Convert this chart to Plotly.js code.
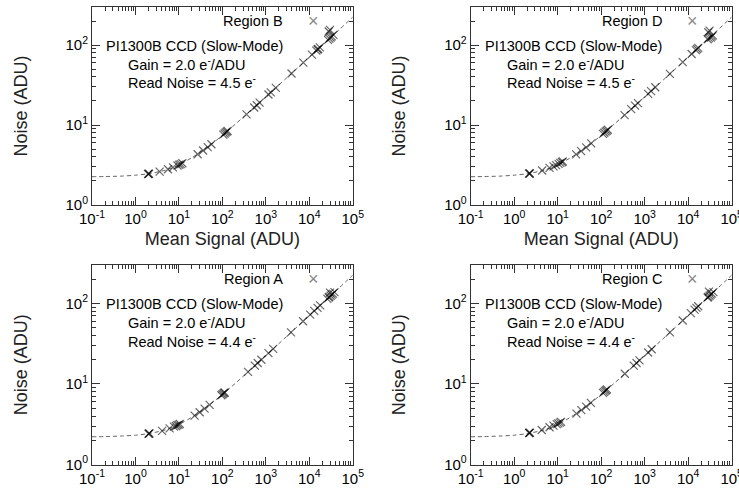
<!DOCTYPE html>
<html>
<head>
<meta charset="utf-8">
<script src="https://cdn.plot.ly/plotly-3.0.1.min.js"></script>
<style>
  html, body { margin: 0; padding: 0; background: #fff; overflow: hidden; }
  #chart { width: 739px; height: 489px; }
</style>
</head>
<body>
<div id="chart"></div>
<script>
// ---------------- data ----------------
var panelNames = ['Region B', 'Region D', 'Region A', 'Region C'];
var readNoiseLabels = ['4.5', '4.5', '4.4', '4.4'];
var gainLabel = '2.0';

var xTickVals = [0.1, 1, 10, 100, 1000, 10000, 100000];
var xTickText = ['10<sup>-1</sup>', '10<sup>0</sup>', '10<sup>1</sup>', '10<sup>2</sup>', '10<sup>3</sup>', '10<sup>4</sup>', '10<sup>5</sup>'];
var yTickVals = [1, 10, 100];
var yTickText = ['10<sup>0</sup>', '10<sup>1</sup>', '10<sup>2</sup>'];

// fitted model curves (dashed)
var curveSignal  = [0.1, 0.2, 0.5, 1, 2, 5, 10, 20, 50, 100, 200, 500, 1000, 3000, 10000, 30000, 100000];
var curveNoiseBD = [2.26, 2.27, 2.30, 2.36, 2.46, 2.74, 3.17, 3.92, 5.49, 7.42, 10.3, 16.0, 22.5, 38.8, 70.7, 122.5, 224];
var curveNoiseAC = [2.21, 2.22, 2.26, 2.31, 2.42, 2.70, 3.14, 3.88, 5.47, 7.41, 10.2, 16.0, 22.5, 38.8, 70.7, 122.5, 224];

// Region B (top left)
var regionBSignal = [1.95, 2.0, 2.05, 3.6, 5.6, 7.3, 9.3, 10.2, 11.0, 12.0, 27, 36, 46, 56,
  105, 112, 118, 125, 132, 360, 540, 620, 720, 1150, 1300, 1700, 3900, 7300,
  11500, 14500, 15500, 16000, 17500, 27000, 28000, 29000, 30000, 31000, 33000, 36000];
var regionBNoise = [2.44, 2.45, 2.46, 2.62, 2.80, 2.95, 3.12, 3.19, 3.25, 3.33, 4.31, 4.80, 5.30, 5.75,
  7.59, 7.82, 8.05, 8.24, 8.43, 13.6, 16.6, 17.7, 19.1, 24.1, 25.6, 29.2, 44.2, 60.5,
  75.9, 85.2, 88.1, 89.5, 93.6, 116.2, 148, 120.4, 155, 124.5, 128.5, 134.2];

// Region D (top right)
var regionDSignal = [2.2, 2.25, 2.3, 4.4, 6.5, 8.0, 9.2, 10.5, 11.5, 12.5, 13.1, 26.6, 34.6, 45, 59,
  110, 118, 126, 134, 142, 345, 490, 600, 700, 1200, 1400, 1750, 3800, 7500,
  12000, 15000, 16000, 17000, 28000, 29000, 30000, 31000, 33000, 35000, 37000];
var regionDNoise = [2.47, 2.48, 2.49, 2.70, 2.91, 3.04, 3.15, 3.27, 3.36, 3.44, 3.50, 4.29, 4.71, 5.25, 5.89,
  7.76, 8.01, 8.26, 8.49, 8.73, 13.3, 15.8, 17.5, 18.8, 24.6, 26.6, 29.7, 43.6, 61.3,
  77.5, 86.6, 89.5, 92.2, 118.3, 145, 122.5, 152, 124.5, 128.5, 132.3, 136.0];

// Region A (bottom left)
var regionASignal = [2.0, 2.05, 2.1, 4.1, 6.1, 7.7, 8.5, 9.2, 9.8, 10.5, 23, 30, 39, 51,
  95, 100, 105, 110, 113, 390, 560, 650, 790, 1150, 1480, 3800, 7200,
  10500, 13000, 15500, 17800, 26000, 28000, 29000, 30000, 31000, 33000, 35000, 38000];
var regionANoise = [2.41, 2.42, 2.43, 2.62, 2.81, 2.95, 3.01, 3.07, 3.12, 3.18, 4.04, 4.45, 4.93, 5.51,
  7.23, 7.41, 7.58, 7.74, 7.84, 14.1, 16.9, 18.2, 20.0, 24.1, 27.3, 43.6, 60.0,
  72.5, 80.6, 88.1, 94.4, 114.0, 118.3, 120.4, 136, 124.5, 128.5, 132.3, 137.9];

// Region C (bottom right)
var regionCSignal = [2.2, 2.25, 2.3, 4.3, 6.5, 8.0, 9.5, 10.3, 11.2, 12.0, 27, 35, 45, 58,
  110, 117, 124, 130, 136, 350, 560, 650, 760, 1200, 1450, 3800, 7500,
  11500, 14000, 15500, 17000, 28000, 29000, 30000, 31000, 33000, 35000, 38000];
var regionCNoise = [2.46, 2.47, 2.48, 2.68, 2.90, 3.04, 3.17, 3.24, 3.31, 3.38, 4.29, 4.73, 5.23, 5.82,
  7.74, 7.97, 8.19, 8.38, 8.55, 13.4, 16.9, 18.2, 19.6, 24.6, 27.0, 43.6, 61.3,
  75.9, 83.7, 88.1, 92.2, 118.3, 120.4, 140, 124.5, 128.5, 132.3, 137.9];

// ---------------- build figure ----------------
var FONT = 'Liberation Sans, Arial, Helvetica, sans-serif';
var pointSets = [
  [regionBSignal, regionBNoise, curveNoiseBD],
  [regionDSignal, regionDNoise, curveNoiseBD],
  [regionASignal, regionANoise, curveNoiseAC],
  [regionCSignal, regionCNoise, curveNoiseAC]
];
var axisIds = ['', '2', '3', '4'];
var MARK = 'rgba(0,0,0,0.6)';

var traces = [];
pointSets.forEach(function (set, i) {
  var id = axisIds[i];
  traces.push({
    x: curveSignal, y: set[2], type: 'scatter', mode: 'lines',
    xaxis: 'x' + id, yaxis: 'y' + id, showlegend: false, hoverinfo: 'skip',
    line: { color: '#666', width: 1, dash: '4px,3px', shape: 'spline', smoothing: 0.8 }
  });
  traces.push({
    x: set[0], y: set[1], type: 'scatter', mode: 'markers', name: panelNames[i],
    xaxis: 'x' + id, yaxis: 'y' + id, showlegend: false,
    marker: { symbol: 'x-thin-open', size: 8, color: MARK, line: { color: MARK, width: 1.2 } }
  });
});

// minor tick positions (2..9 in each decade)
function minorTicks(lo, hi) {
  var out = [];
  for (var d = lo; d < hi; d++) {
    for (var k = 2; k <= 9; k++) out.push(k * Math.pow(10, d));
  }
  return out;
}
var xMinor = minorTicks(-1, 5);
var yMinor = minorTicks(0, 3);

var xDomains = [[0.1245, 0.4773], [0.6369, 0.9901], [0.1245, 0.4773], [0.6369, 0.9901]];
var yDomains = [[0.5808, 0.9857], [0.5808, 0.9857], [0.0501, 0.4581], [0.0501, 0.4581]];

var layout = {
  width: 739, height: 489,
  margin: { l: 0, r: 0, t: 0, b: 0 },
  paper_bgcolor: '#fff', plot_bgcolor: '#fff',
  font: { family: FONT, size: 15, color: '#000' },
  showlegend: false,
  annotations: []
};

function axisCommon() {
  return {
    type: 'log', showgrid: false, zeroline: false,
    showline: true, linecolor: '#333', linewidth: 1, mirror: 'allticks',
    ticks: 'inside', ticklen: 8, tickwidth: 1, tickcolor: '#333',
    tickmode: 'array', ticklabeloverflow: 'allow',
    tickfont: { family: FONT, size: 15, color: '#000' },
    minor: { ticks: 'inside', ticklen: 4, tickwidth: 1, tickcolor: '#333', showgrid: false, tickmode: 'array' },
    fixedrange: true
  };
}

for (var i = 0; i < 4; i++) {
  var id = axisIds[i];
  var xa = axisCommon();
  xa.domain = xDomains[i];
  xa.anchor = 'y' + id;
  xa.range = [-1, 5];
  xa.tickvals = xTickVals; xa.ticktext = xTickText;
  xa.minor.tickvals = xMinor;
  if (i < 2) {
    xa.title = { text: 'Mean Signal (ADU)', font: { family: FONT, size: 18, color: '#222' }, standoff: 6 };
  }
  var ya = axisCommon();
  ya.domain = yDomains[i];
  ya.anchor = 'x' + id;
  ya.range = [0, 2.477];
  ya.tickvals = yTickVals; ya.ticktext = yTickText;
  ya.minor.tickvals = yMinor;
  ya.title = { text: 'Noise (ADU)', font: { family: FONT, size: 18, color: '#222' }, standoff: 33 };
  layout['xaxis' + id] = xa;
  layout['yaxis' + id] = ya;

  var xr = 'x' + id + ' domain', yr = 'y' + id + ' domain';
  layout.annotations.push(
    { xref: xr, yref: yr, x: 0.740, y: 0.929, xanchor: 'right', yanchor: 'middle', showarrow: false,
      text: panelNames[i], font: { family: FONT, size: 14.5, color: '#000' } },
    { xref: xr, yref: yr, x: 0.848, y: 0.929, xanchor: 'center', yanchor: 'middle', showarrow: false,
      text: '×', font: { family: FONT, size: 18, color: '#888' } },
    { xref: xr, yref: yr, x: 0.740, y: 0.805, xanchor: 'right', yanchor: 'middle', showarrow: false,
      text: 'PI1300B CCD (Slow-Mode)', font: { family: FONT, size: 14.5, color: '#000' } },
    { xref: xr, yref: yr, x: 0.130, y: 0.712, xanchor: 'left', yanchor: 'middle', showarrow: false,
      text: 'Gain = ' + gainLabel + ' e<sup>-</sup>/ADU', font: { family: FONT, size: 14.5, color: '#000' } },
    { xref: xr, yref: yr, x: 0.130, y: 0.621, xanchor: 'left', yanchor: 'middle', showarrow: false,
      text: 'Read Noise = ' + readNoiseLabels[i] + ' e<sup>-</sup>', font: { family: FONT, size: 14.5, color: '#000' } }
  );
}

Plotly.newPlot('chart', traces, layout, { staticPlot: true, displayModeBar: false });
</script>
</body>
</html>
